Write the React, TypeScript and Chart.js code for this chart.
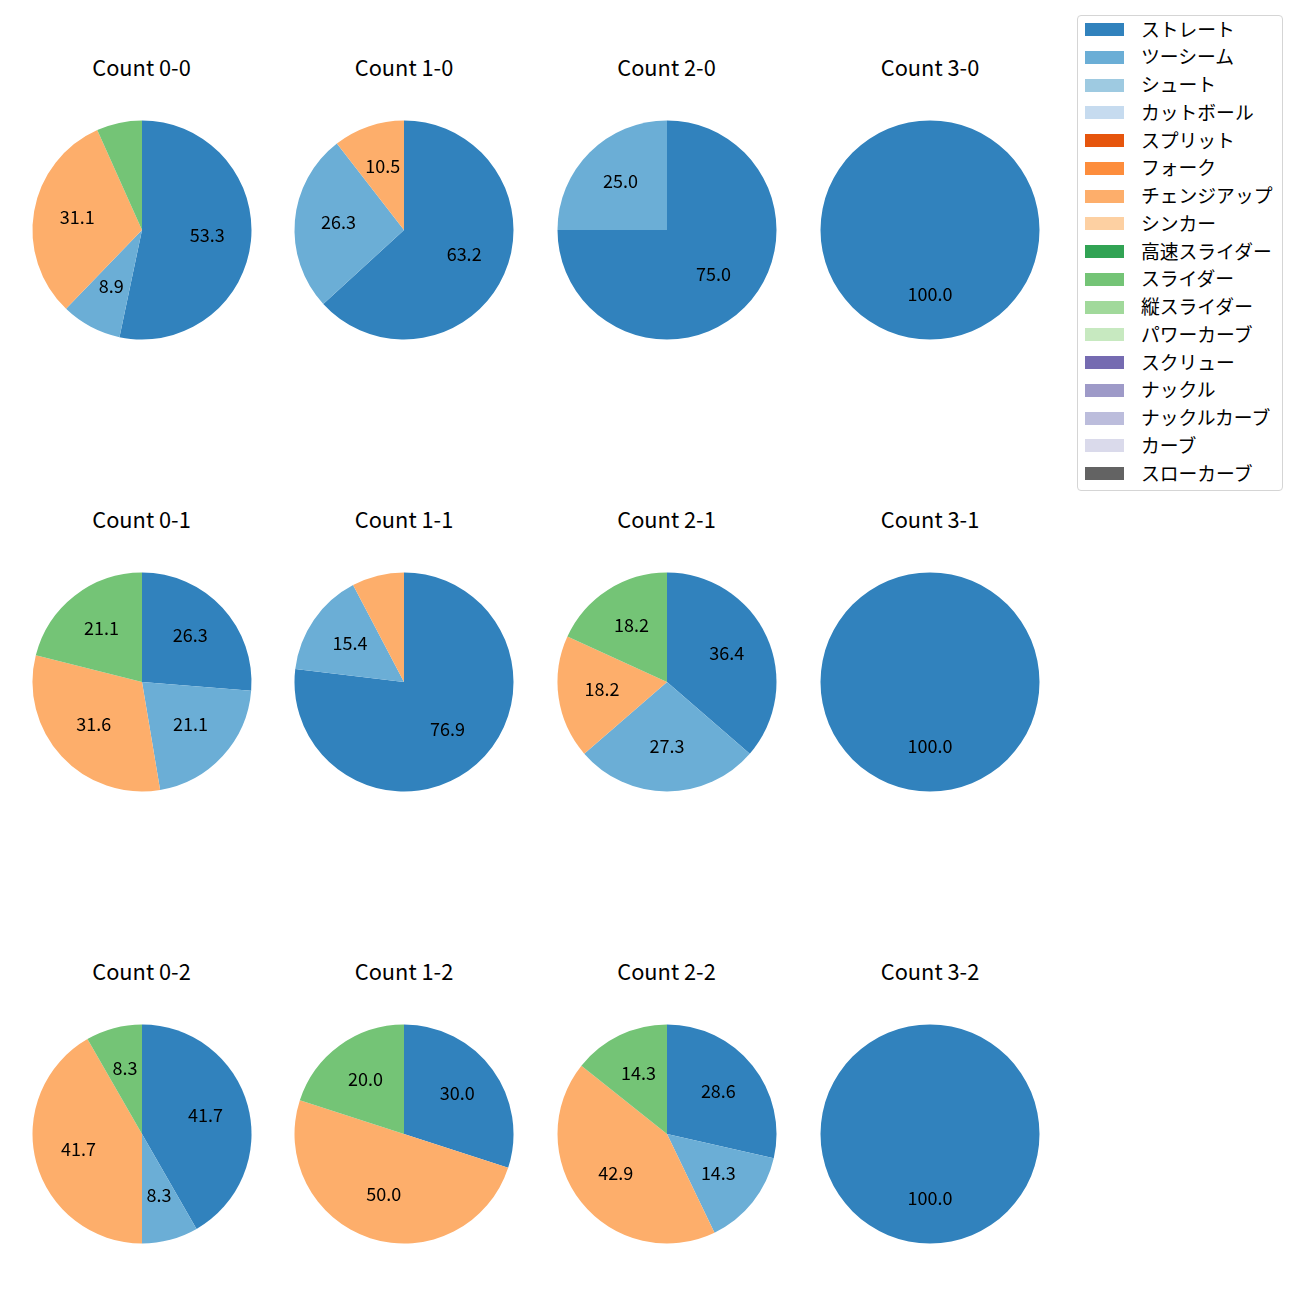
import React, { useEffect, useRef } from "react";
import { Chart, registerables } from "chart.js";

Chart.register(...registerables);

const pitchTypes = [
  "ストレート", "ツーシーム", "シュート", "カットボール", "スプリット", "フォーク",
  "チェンジアップ", "シンカー", "高速スライダー", "スライダー", "縦スライダー",
  "パワーカーブ", "スクリュー", "ナックル", "ナックルカーブ", "カーブ", "スローカーブ",
];
const pitchColors = [
  "#3182bd", "#6baed6", "#9ecae1", "#c6dbef", "#e6550d", "#fd8d3c",
  "#fdae6b", "#fdd0a2", "#31a354", "#74c476", "#a1d99b", "#c7e9c0",
  "#756bb1", "#9e9ac8", "#bcbddc", "#dadaeb", "#636363",
];

const counts = ["0-0", "1-0", "2-0", "3-0", "0-1", "1-1", "2-1", "3-1", "0-2", "1-2", "2-2", "3-2"];
// percentages per count (same order as counts)
const straight = [53.3, 63.2, 75.0, 100.0, 26.3, 76.9, 36.4, 100.0, 41.7, 30.0, 28.6, 100.0];
const twoSeam = [8.9, 26.3, 25.0, 0, 21.1, 15.4, 27.3, 0, 8.3, 0, 14.3, 0];
const changeup = [31.1, 10.5, 0, 0, 31.6, 7.7, 18.2, 0, 41.7, 50.0, 42.9, 0];
const slider = [6.7, 0, 0, 0, 21.1, 0, 18.2, 0, 8.3, 20.0, 14.3, 0];

const shownTypes = ["ストレート", "ツーシーム", "チェンジアップ", "スライダー"];
const shownSeries = [straight, twoSeam, changeup, slider];

const FONT = "'Noto Sans CJK JP', 'DejaVu Sans', sans-serif";
const colCenters = [141.5, 404, 666.5, 930];
const rowCenters = [229.5, 682, 1134];
const CANVAS = 240;
const LABEL_MIN = 8;

const pctLabelPlugin = {
  id: "pctLabels",
  afterDatasetsDraw(chart: any) {
    const ctx = chart.ctx;
    const meta = chart.getDatasetMeta(0);
    const values = chart.data.datasets[0].data;
    ctx.save();
    ctx.fillStyle = "#000";
    ctx.font = `18px ${FONT}`;
    ctx.textAlign = "center";
    ctx.textBaseline = "middle";
    meta.data.forEach((arc: any, i: number) => {
      const v = values[i];
      if (!v || v < LABEL_MIN) return;
      const p = arc.getProps(["x", "y", "startAngle", "endAngle", "outerRadius"], true);
      const mid = (p.startAngle + p.endAngle) / 2;
      const r = p.outerRadius * 0.6;
      ctx.fillText(v.toFixed(1), p.x + Math.cos(mid) * r, p.y + Math.sin(mid) * r - 2);
    });
    ctx.restore();
  },
};

function Pie({ idx }: { idx: number }) {
  const ref = useRef<HTMLCanvasElement>(null);
  useEffect(() => {
    const labels = shownTypes;
    const data = shownSeries.map((s) => s[idx]);
    const colors = shownTypes.map((t) => pitchColors[pitchTypes.indexOf(t)]);
    const chart = new Chart(ref.current!, {
      type: "pie",
      data: {
        labels,
        datasets: [{ data, backgroundColor: colors, borderWidth: 0, hoverOffset: 0, offset: 0 }],
      },
      options: {
        responsive: false,
        animation: false,
        layout: { padding: 10.5 },
        plugins: { legend: { display: false }, tooltip: { enabled: false }, title: { display: false } },
      },
      plugins: [pctLabelPlugin],
    });
    return () => chart.destroy();
  }, [idx]);
  const cx = colCenters[idx % 4];
  const cy = rowCenters[Math.floor(idx / 4)];
  return (
    <>
      <div
        style={{
          position: "absolute",
          left: cx - 100,
          width: 200,
          top: cy - 173,
          height: 20,
          lineHeight: "20px",
          textAlign: "center",
          fontFamily: FONT,
          fontSize: 21.8,
          color: "#000",
          whiteSpace: "nowrap",
        }}
      >
        {`Count ${counts[idx]}`}
      </div>
      <canvas
        ref={ref}
        width={CANVAS}
        height={CANVAS}
        style={{ position: "absolute", left: cx - CANVAS / 2, top: cy - CANVAS / 2, width: CANVAS, height: CANVAS }}
      />
    </>
  );
}

function Legend() {
  return (
    <div
      style={{
        position: "absolute",
        left: 1077,
        top: 15,
        width: 204,
        height: 474,
        border: "1px solid #d5d5d5",
        borderRadius: 4,
        background: "#fff",
        boxSizing: "content-box",
      }}
    >
      {pitchTypes.map((t, i) => (
        <div key={t} style={{ position: "absolute", left: 0, top: 0.9 + i * 27.75, height: 20, width: 204 }}>
          <div
            style={{
              position: "absolute",
              left: 7,
              top: 6.3,
              width: 39,
              height: 13,
              background: pitchColors[i],
            }}
          />
          <div
            style={{
              position: "absolute",
              left: 63,
              top: 1.8,
              height: 20,
              lineHeight: "20px",
              fontFamily: FONT,
              fontSize: 18.8,
              color: "#000",
              whiteSpace: "nowrap",
            }}
          >
            {t}
          </div>
        </div>
      ))}
    </div>
  );
}

export default function App() {
  return (
    <div style={{ position: "absolute", left: 0, top: 0, width: 1300, height: 1300, background: "#fff" }}>
      {counts.map((_, i) => (
        <Pie key={i} idx={i} />
      ))}
      <Legend />
    </div>
  );
}
